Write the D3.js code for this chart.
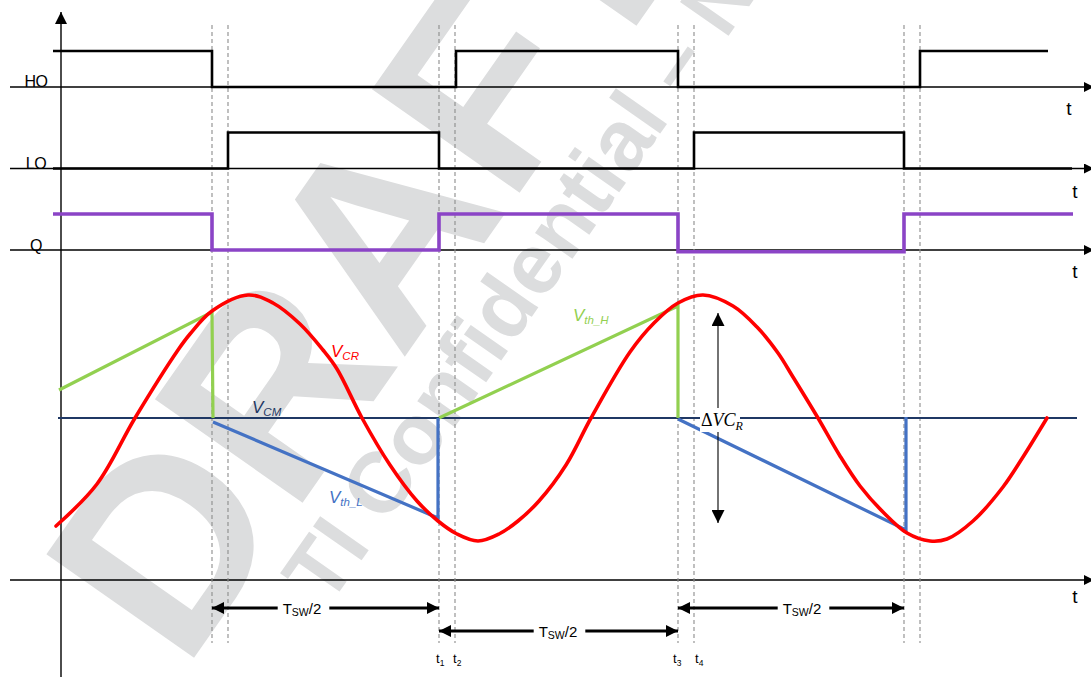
<!DOCTYPE html>
<html><head><meta charset="utf-8">
<script src="https://cdn.jsdelivr.net/npm/d3@7"></script>
<style>body{margin:0;background:#fff}svg{display:block}</style>
</head><body>
<script>
// ---------------- data ----------------
const signalNames = ["HO", "LO", "Q"];
const hoSteps = [[-0.08, 1], [1.51, 0], [3.95, 1], [6.17, 0], [8.59, 1], [9.87, 1]];
const loSteps = [[-0.08, 0], [1.67, 1], [3.78, 0], [6.33, 1], [8.43, 0], [10.11, 0]];
const qSteps  = [[-0.08, 1], [1.51, 0], [3.78, 1], [6.17, -0.05], [8.43, 1], [10.12, 1]];
const markerTimes = [1.51, 1.67, 3.78, 3.94, 6.17, 6.33, 8.43, 8.59];

const vcrTime = [-0.05, 0.36, 0.74, 1.17, 1.29, 1.51, 1.87, 2.12, 2.39, 2.62, 2.76, 3.01, 3.29, 3.56, 3.77, 3.96, 4.17, 4.38, 4.57, 4.78, 5.05, 5.30, 5.69, 5.93, 6.17, 6.42, 6.72, 6.96, 7.17, 7.32, 7.57, 7.79, 7.99, 8.22, 8.46, 8.69, 8.86, 9.12, 9.42, 9.62, 9.86];
const vcrVolt = [-1.08, -0.66, 0, 0.68, 0.84, 1.07, 1.23, 1.15, 0.94, 0.68, 0.49, 0, -0.47, -0.83, -1.03, -1.16, -1.23, -1.16, -1.03, -0.83, -0.47, 0, 0.66, 0.95, 1.15, 1.23, 1.12, 0.91, 0.65, 0.41, 0, -0.38, -0.68, -0.94, -1.15, -1.23, -1.21, -1.03, -0.69, -0.39, 0];

const vthH = [[[-0.02, 0.28], [1.51, 1.06], [1.52, 0]], [[3.78, 0], [6.17, 1.12], [6.17, 0]]];
const vthL = [[[1.52, -0.04], [3.77, -1.0], [3.77, 0]], [[6.17, -0.01], [8.45, -1.12], [8.45, 0.01]]];
const vcmLevel = 0;
const vcmSpan = [-0.03, 10.16];

const halfPeriodStart = [1.51, 3.78, 6.17];
const halfPeriodEnd   = [3.78, 6.17, 8.43];
const halfPeriodLabelT = [2.41, 4.97, 7.41];
const halfPeriodRow = [0, 1, 0];

const timeLabelNames = ["1", "2", "3", "4"];
const timeLabelT = [3.75, 3.92, 6.12, 6.34];

const deltaT = 6.57, deltaTop = 1.05, deltaBottom = -1.05;

// ---------------- layout ----------------
const W = 1091, H = 677;
const svg = d3.select("body").append("svg").attr("width", W).attr("height", H)
  .style("font-family", "'Liberation Sans', Arial, sans-serif");

const x = d3.scaleLinear().domain([0, 10]).range([61, 1061]);
const row = d3.scalePoint().domain(signalNames).range([87, 250]);
const level = d3.scaleLinear().domain([0, 1]).range([0, -36]);
const yV = d3.scaleLinear().domain([-1, 1]).range([518, 318]);
const tswRowY = d3.scaleOrdinal().domain([0, 1]).range([608, 631]);

// markers
const defs = svg.append("defs");
function marker(id, len, wid) {
  defs.append("marker").attr("id", id).attr("viewBox", "0 0 10 10")
    .attr("refX", 10).attr("refY", 5).attr("markerUnits", "userSpaceOnUse")
    .attr("markerWidth", len).attr("markerHeight", wid).attr("orient", "auto-start-reverse")
    .append("path").attr("d", "M0,0 L10,5 L0,10 Z").attr("fill", "#000");
}
marker("axArrow", 10, 10);
marker("vArrow", 13, 12);
marker("bigArrow", 13, 12);
marker("dArrow", 14, 13);

// ---------------- watermark ----------------
const wm = svg.append("g").attr("fill", "#dcddde").style("font-weight", "bold");
wm.append("text").attr("transform", "translate(184,672) rotate(-55)")
  .style("font-size", "262px").text("DRAFT");
wm.append("text").attr("transform", "translate(328,608) rotate(-55)")
  .style("font-size", "86px").text("TI Confidential \u2013 NDA");

// ---------------- axes ----------------
const axisG = svg.append("g").attr("stroke", "#000").attr("stroke-width", 1.4);
axisG.append("line").attr("x1", x(0)).attr("x2", x(0)).attr("y1", H).attr("y2", 12)
  .attr("marker-end", "url(#vArrow)");
const hAxes = signalNames.map(n => row(n)).concat([yV(-1.62)]);
axisG.selectAll("line.h").data(hAxes).join("line").attr("class", "h")
  .attr("x1", x(-0.51)).attr("x2", x(10.33)).attr("y1", d => d).attr("y2", d => d)
  .attr("marker-end", "url(#axArrow)");

// t labels on axes
const tLabelPos = [[x(10.08), row("HO") + 28], [x(10.14), row("LO") + 29], [x(10.14), row("Q") + 28], [x(10.14), yV(-1.62) + 23]];
svg.selectAll("text.tax").data(tLabelPos).join("text").attr("class", "tax")
  .attr("x", d => d[0]).attr("y", d => d[1]).attr("text-anchor", "middle")
  .style("font-size", "19px").text("t");

// signal names
svg.selectAll("text.sig").data(signalNames).join("text").attr("class", "sig")
  .attr("x", 36).attr("y", d => row(d) + (d === "Q" ? 1 : 0)).attr("text-anchor", "middle")
  .style("font-size", "16px").style("letter-spacing", "-0.5px").text(d => d);

// dashed markers
svg.selectAll("line.mk").data(markerTimes).join("line").attr("class", "mk")
  .attr("x1", d => x(d)).attr("x2", d => x(d)).attr("y1", 25).attr("y2", 643)
  .attr("stroke", "#8c8c8c").attr("stroke-width", 1.1).attr("stroke-dasharray", "4,3");

// ---------------- digital signals ----------------
const stepLine = name => d3.line().curve(d3.curveStepAfter)
  .x(d => x(d[0])).y(d => row(name) + level(d[1]));
svg.append("path").datum(hoSteps).attr("d", stepLine("HO"))
  .attr("fill", "none").attr("stroke", "#000").attr("stroke-width", 2.6);
svg.append("path").datum(loSteps).attr("d", stepLine("LO"))
  .attr("fill", "none").attr("stroke", "#000").attr("stroke-width", 2.6);
svg.append("path").datum(qSteps).attr("d", stepLine("Q"))
  .attr("fill", "none").attr("stroke", "#8b44c6").attr("stroke-width", 3.6);

// ---------------- analog ----------------
const aLine = d3.line().x(d => x(d[0])).y(d => yV(d[1]));
svg.append("line").attr("x1", x(vcmSpan[0])).attr("x2", x(vcmSpan[1]))
  .attr("y1", yV(vcmLevel)).attr("y2", yV(vcmLevel))
  .attr("stroke", "#1f3864").attr("stroke-width", 2);

svg.selectAll("path.vh").data(vthH).join("path").attr("class", "vh").attr("d", aLine)
  .attr("fill", "none").attr("stroke", "#92d050").attr("stroke-width", 3.2);
svg.selectAll("path.vl").data(vthL).join("path").attr("class", "vl").attr("d", aLine)
  .attr("fill", "none").attr("stroke", "#4472c4").attr("stroke-width", 3.2);

const vcrData = vcrTime.map((t, i) => [t, vcrVolt[i]]);
svg.append("path").datum(vcrData)
  .attr("d", d3.line().curve(d3.curveCatmullRom.alpha(0.5)).x(d => x(d[0])).y(d => yV(d[1])))
  .attr("fill", "none").attr("stroke", "#ff0000").attr("stroke-width", 3.6)
  .attr("stroke-linejoin", "round").attr("stroke-linecap", "round");

// Delta VCR arrow
svg.append("line").attr("x1", x(deltaT)).attr("x2", x(deltaT))
  .attr("y1", yV(deltaBottom)).attr("y2", yV(deltaTop))
  .attr("stroke", "#000").attr("stroke-width", 1.1)
  .attr("marker-start", "url(#dArrow)").attr("marker-end", "url(#dArrow)");
svg.append("rect").attr("x", 700).attr("y", yV(0) - 10).attr("width", 40).attr("height", 24).attr("fill", "#fff");
const dl = svg.append("text").attr("x", 701).attr("y", yV(0) + 8)
  .style("font-family", "'Liberation Serif', 'DejaVu Serif', serif").style("font-size", "18px");
dl.append("tspan").text("\u0394");
dl.append("tspan").style("font-style", "italic").text("VC");
dl.append("tspan").style("font-style", "italic").style("font-size", "12px").attr("dy", 4).text("R");

// V labels
function vLabel(px, py, sub, color) {
  const t = svg.append("text").attr("x", px).attr("y", py).attr("fill", color)
    .style("font-style", "italic").style("font-size", "17px");
  t.append("tspan").text("V");
  t.append("tspan").style("font-size", "11.5px").attr("dy", 3).text(sub);
}
vLabel(331, 357, "CR", "#ff0000");
vLabel(252, 413, "CM", "#1f3864");
vLabel(329, 503, "th_L", "#4472c4");
vLabel(573, 321, "th_H", "#92d050");

// ---------------- half period arrows ----------------
halfPeriodStart.forEach((s, i) => {
  const y = tswRowY(halfPeriodRow[i]);
  const lab = svg.append("text").attr("x", x(halfPeriodLabelT[i])).attr("y", y + 6)
    .attr("text-anchor", "middle").style("font-size", "15px");
  lab.append("tspan").text("T");
  lab.append("tspan").style("font-size", "10.5px").attr("dy", 2).text("SW");
  lab.append("tspan").attr("dy", -2).text("/2");
  const bb = lab.node().getBBox();
  svg.append("line").attr("x1", x(s)).attr("x2", bb.x - 5).attr("y1", y).attr("y2", y)
    .attr("stroke", "#000").attr("stroke-width", 3).attr("marker-start", "url(#bigArrow)");
  svg.append("line").attr("x1", bb.x + bb.width + 8).attr("x2", x(halfPeriodEnd[i])).attr("y1", y).attr("y2", y)
    .attr("stroke", "#000").attr("stroke-width", 3).attr("marker-end", "url(#bigArrow)");
});

// time labels t1..t4
timeLabelNames.forEach((n, i) => {
  const t = svg.append("text").attr("x", x(timeLabelT[i])).attr("y", 663).style("font-size", "13px");
  t.append("tspan").text("t");
  t.append("tspan").style("font-size", "8.5px").attr("dy", 3).text(n);
});
</script>
</body></html>
